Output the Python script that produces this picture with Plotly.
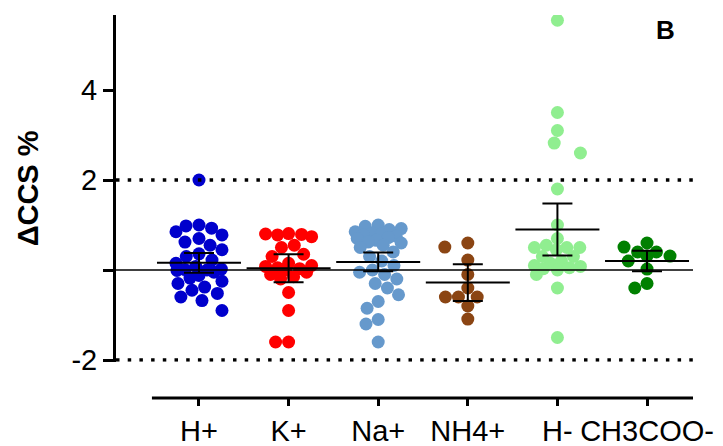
import numpy as np
import plotly.graph_objects as go

# ---- data ----
categories = ["H+", "K+", "Na+", "NH4+", "H-", "CH3COO-"]
colors = ["#0000CC", "#FF0000", "#6699CC", "#8B4513", "#90EE90", "#008000"]

h_plus = [2.0, 1.0, 0.98, 0.93, 0.85, 0.78, 0.7, 0.62, 0.55, 0.45, 0.36, 0.3, 0.22, 0.15,
          0.08, 0.02, 0.0, -0.01, 0.01, -0.05, -0.12, -0.18, -0.25, -0.3, -0.38, -0.45,
          -0.52, -0.6, -0.68, -0.9]
k_plus = [0.8, 0.81, 0.79, 0.78, 0.74, 0.55, 0.5, 0.35, 0.3, 0.15, 0.1, 0.08, 0.05, 0.03,
          0.0, -0.05, -0.1, -0.15, -0.2, -0.5, -0.9, -1.6, -1.6]
na_plus = [1.0, 0.97, 0.92, 0.9, 0.85, 0.82, 0.8, 0.78, 0.75, 0.72, 0.7, 0.66, 0.62,
           0.6, 0.55, 0.5, 0.4, 0.3, 0.2, 0.1, 0.0,
           -0.05, -0.1, -0.2, -0.3, -0.4, -0.55, -0.7, -0.85, -1.1,
           -1.2, -1.6]
nh4_plus = [0.6, 0.51, 0.22, -0.1, -0.4, -0.6, -0.6, -0.6, -0.8, -1.09]
h_minus = [5.55, 3.5, 3.1, 2.82, 2.6, 1.8, 1.0, 0.7, 0.55, 0.5, 0.5, 0.5, 0.45, 0.3,
           0.3, 0.2, 0.15, 0.1, 0.08, 0.05, 0.03, 0.0, -0.1, -0.4, -1.5]
ch3coo_minus = [0.6, 0.51, 0.4, 0.4, 0.31, 0.31, 0.2, 0.02, -0.3, -0.4]

groups = [h_plus, k_plus, na_plus, nh4_plus, h_minus, ch3coo_minus]
means = [0.16, 0.04, 0.18, -0.28, 0.90, 0.20]
ci = [0.22, 0.31, 0.21, 0.41, 0.58, 0.23]

y_ticks = [-2, 0, 2, 4]
y_ticktext = ["-2", "", "2", "4"]
ref_lines = [2, -2]

# ---- layout geometry (page body has an 8px margin) ----
PAGE_PAD = 8
W, H = 723 - PAGE_PAD, 446 - PAGE_PAD
ML, MR, MT, MB = 116 - PAGE_PAD, 30, 15 - PAGE_PAD, 48
X_RANGE = [-0.926, 5.513]
PX_PER_Y = 45.0
Y_TOP = 5.667
Y_BOTTOM = -2.04          # a hair below -2 so the dotted line is not clipped
plot_h_px = H - MT - MB
y_dom_bottom = 1 - (Y_TOP - Y_BOTTOM) * PX_PER_Y / plot_h_px
Y_RANGE = [Y_BOTTOM, Y_TOP]
px_per_x = (W - ML - MR) / (X_RANGE[1] - X_RANGE[0])
MARKER = 13
SPACING = 13.0     # preferred centre distance (px)
MAX_HALF = 23.0    # max horizontal spread from the group centre (px)


def swarm_offsets(values, d, maxw):
    """Beeswarm limited in width; overlaps allowed when a row is too crowded."""
    ys = np.asarray(values, dtype=float) * PX_PER_Y
    order = np.argsort(-ys, kind="stable")
    placed = []
    out = np.zeros(len(ys))
    grid = np.linspace(-maxw, maxw, int(2 * maxw) + 1)
    for i in order:
        y = ys[i]
        cands = [0.0]
        for (px, py) in placed:
            dy = abs(py - y)
            if dy < d:
                dx = np.sqrt(d * d - dy * dy)
                cands += [px - dx, px + dx]
        cands = [c for c in set(np.round(cands, 6)) if abs(c) <= maxw + 1e-9]
        cands.sort(key=lambda c: (abs(c), c))
        chosen = None
        for c in cands:
            if all((px - c) ** 2 + (py - y) ** 2 >= d * d - 1e-6 for (px, py) in placed):
                chosen = c
                break
        if chosen is None:
            def score(c):
                md = min(np.hypot(px - c, py - y) for (px, py) in placed)
                return (round(md, 1), -abs(c))
            chosen = float(max(grid, key=score))
        out[i] = chosen
        placed.append((chosen, y))
    return out


fig = go.Figure()
for gi, (vals, col) in enumerate(zip(groups, colors)):
    offs = swarm_offsets(vals, SPACING, MAX_HALF) / px_per_x
    fig.add_trace(go.Scatter(
        x=gi + offs, y=vals, mode="markers",
        marker=dict(size=MARKER, color=col, line=dict(width=0)),
        hoverinfo="skip", showlegend=False))

# mean lines + error bars
fig.add_trace(go.Scatter(
    x=list(range(len(categories))), y=means, mode="markers",
    marker=dict(symbol="line-ew-open", size=60, color="black",
                line=dict(width=2, color="black")),
    error_y=dict(type="data", array=ci, visible=True, color="black",
                 thickness=2, width=15),
    hoverinfo="skip", showlegend=False))

shapes = []
for yv in ref_lines:
    shapes.append(dict(type="line", xref="paper", yref="y", x0=0, x1=1, y0=yv, y1=yv,
                       line=dict(color="black", width=3.5, dash="3.5px,8.2px"), layer="above"))
shapes.append(dict(type="line", xref="paper", yref="y", x0=0, x1=1, y0=0, y1=0,
                   line=dict(color="black", width=1.6), layer="above"))
# offset x axis line
shapes.append(dict(type="line", xref="x", yref="paper", x0=-0.525, x1=X_RANGE[1],
                   y0=0, y1=0, line=dict(color="black", width=3), layer="above"))

FONT = "Liberation Sans, Arial, sans-serif"
fig.update_layout(
    template="none",
    width=W, height=H,
    margin=dict(l=ML, r=MR, t=MT, b=MB, pad=0, autoexpand=False),
    paper_bgcolor="white", plot_bgcolor="white",
    showlegend=False, hovermode=False,
    font=dict(family=FONT, color="black", size=30),
    shapes=shapes,
    xaxis=dict(range=X_RANGE, anchor="free", position=0, showline=False,
               automargin=False,
               showgrid=False, zeroline=False, ticks="outside", ticklen=7,
               tickwidth=3, tickcolor="black",
               tickvals=list(range(len(categories))), ticktext=categories,
               tickfont=dict(size=29, family=FONT, color="black")),
    yaxis=dict(range=Y_RANGE, domain=[y_dom_bottom, 1], showline=True,
               automargin=False,
               linewidth=3, linecolor="black", showgrid=False, zeroline=False,
               ticks="outside", ticklen=10, tickwidth=3, tickcolor="black",
               tickvals=y_ticks, ticktext=y_ticktext,
               tickfont=dict(size=29, family=FONT, color="black"),
               title=dict(text="<b>ΔCCS %</b>", standoff=25,
                          font=dict(size=29, family=FONT, color="black"))),
    annotations=[dict(text="<b>B</b>", xref="paper", yref="paper",
                      x=0.953, y=0.961, xanchor="center", yanchor="middle",
                      showarrow=False, font=dict(size=26, family=FONT, color="black"))],
)

fig.write_html("out.html")
